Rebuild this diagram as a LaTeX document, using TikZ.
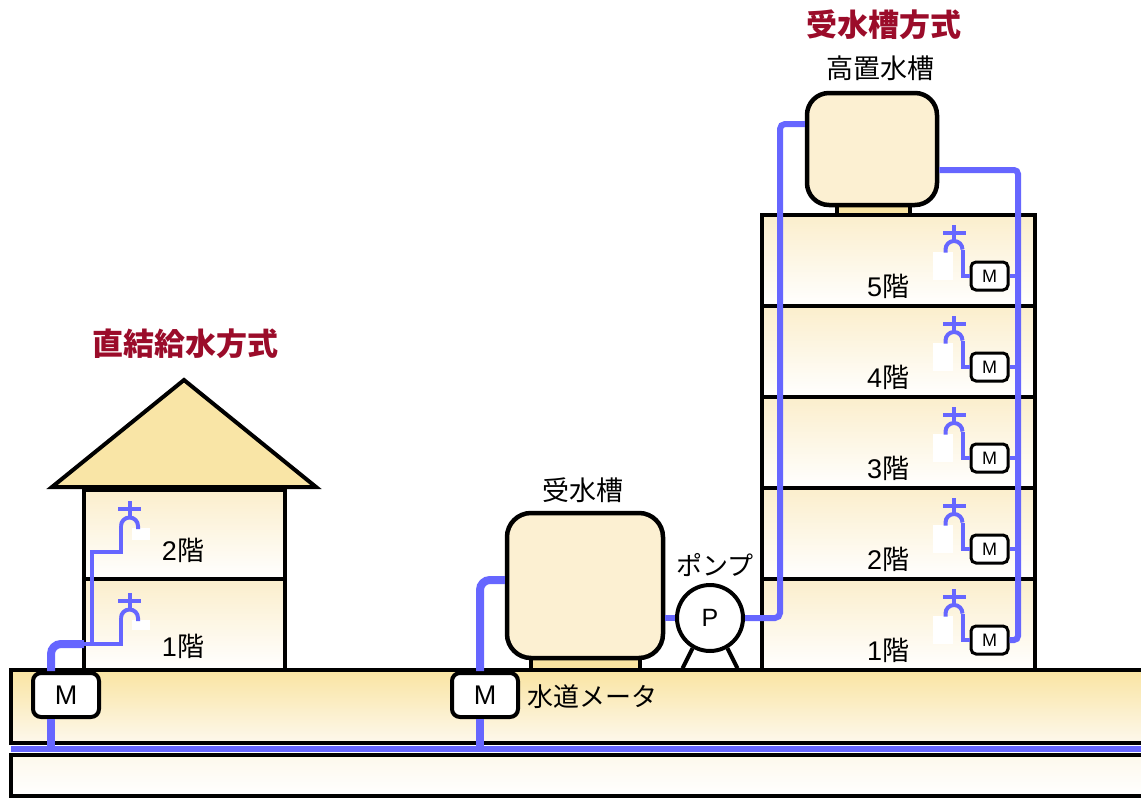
\documentclass[tikz,border=0pt]{standalone}
\usepackage{fontspec}
\setmainfont{Noto Sans CJK JP}
\newfontfamily\mfont{Liberation Sans}
\usetikzlibrary{positioning}
\definecolor{WT}{RGB}{102,102,255}
\definecolor{TK}{RGB}{252,240,210}
\definecolor{TKbase}{RGB}{249,228,162}
\definecolor{RF}{RGB}{249,229,166}
\definecolor{GD}{RGB}{249,228,162}
\definecolor{GDbg}{RGB}{253,248,236}
\definecolor{FL}{RGB}{251,238,204}
\definecolor{TT}{RGB}{155,12,42}
\tikzset{
  % outlines of ground, walls and roof
  frame/.style={draw=black, line width=4pt},
  groundband/.style={frame, top color=GD, bottom color=GDbg},
  baseband/.style={frame, top color=GDbg, bottom color=white},
  floorbox/.style={frame, top color=FL, bottom color=white},
  roof/.style={frame, fill=RF},
  % tanks and their stands
  tank/.style={
    draw=black, line width=4.5pt, fill=TK,
    rounded corners=24pt, inner sep=0pt
  },
  stand/.style={draw=black, line width=4pt, fill=TKbase},
  % meters and pump
  meter/.style={
    draw=black, fill=white, line width=4pt, rounded corners=8pt,
    minimum width=66pt, minimum height=44pt, inner sep=0pt,
    font=\mfont\fontsize{27}{27}\selectfont
  },
  smeter/.style={
    draw=black, fill=white, line width=3pt, rounded corners=5pt,
    minimum width=37pt, minimum height=28pt, inner sep=0pt,
    font=\mfont\fontsize{18}{18}\selectfont
  },
  pump/.style={
    circle, draw=black, fill=white, line width=4pt,
    minimum size=66pt, inner sep=0pt,
    font=\mfont\fontsize{25}{25}\selectfont
  },
  % water pipes
  pipe/.style={draw=WT, line width=4pt},
  riser/.style={draw=WT, line width=6pt},
  feed/.style={draw=WT, line width=8pt},
  % labels
  title/.style={font=\bfseries\fontsize{31}{31}\selectfont, text=TT, inner sep=0pt},
  caption/.style={font=\fontsize{27}{27}\selectfont, inner sep=0pt},
  flabel/.style={font=\fontsize{27}{27}\selectfont, inner sep=0pt},
  % faucet, drawn upward from the end of its pipe
  tap/.pic={
    \draw[pipe] (0,0) [rounded corners=8.5pt] -- (0,-8.5) -- (17,-8.5) -- (17,3);
    \draw[pipe] (8.5,-8.5) -- (8.5,-25);
    \draw[pipe] (-3,-17) -- (20,-17);
  },
}

\begin{document}
\begin{tikzpicture}[x=1pt, y=-1pt]
\useasboundingbox (0,0) rectangle (1141,798);

% ── Ground ───────────────────────────────────────────────────────────────────
\draw[groundband] (11,670) rectangle (1160,743);
\draw[baseband]   (11,755) rectangle (1160,796);
\coordinate (wleft)  at (11,749);
\coordinate (wright) at (1160,749);

% ── House ────────────────────────────────────────────────────────────────────
\draw[floorbox] (84,579) rectangle (285,670);
\draw[floorbox] (84,490) rectangle (285,579);
\draw[roof] (52,487) -- (184,380) -- (316,487) -- cycle;
\fill[white] (132,528) rectangle (150,540);
\fill[white] (132,620) rectangle (150,630);
\node[flabel] (h2) at (183,550) {{\mfont 2}階};
\node[flabel] (h1) at (183,646) {{\mfont 1}階};

% ── Building: five floors, a meter and a tap on each ─────────────────────────
\foreach \n/\fy in {5/215,4/306,3/397,2/488,1/579}{
  \draw[floorbox] (762,\fy) rectangle (1035,\fy+91);
  \fill[white] (933,\fy+37) rectangle (953,\fy+65);
  \node[flabel] (b\n) at (888,\fy+71) {{\mfont\n}階};
  \node[smeter] (m\n) at (989.5,\fy+61) {M};
  \coordinate (t\n) at (962.5,\fy+34.5);
}

% ── Tanks and pump ───────────────────────────────────────────────────────────
\draw[stand] (531,658) rectangle (640,670);
\node[tank, minimum width=156pt, minimum height=145pt] (rtank) at (585,585.5) {};
\draw[stand] (837,205) rectangle (910,215);
\node[tank, minimum width=130pt, minimum height=112pt, rounded corners=22pt]
  (htank) at (872,149) {};
\node[pump] (pump) at (710,618) {P};
\draw[frame] (pump.240) -- ++(-10,20);
\draw[frame] (pump.300) -- ++(10,20);

% ── Meters ───────────────────────────────────────────────────────────────────
\node[meter] (hm) at (66,695) {M};
\node[meter] (cm) at (485,695) {M};
\node[caption, font=\fontsize{26}{26}\selectfont, anchor=west] (cml) at (527,697) {水道メータ};

% ── Pipes: house ─────────────────────────────────────────────────────────────
\draw[riser] (wleft) -- (wright);
\coordinate (hfeed) at (51,749);
\coordinate (hwall) at (84,644);
\draw[feed] (hfeed) -- (hfeed |- hm.south);
\draw[feed, rounded corners=10pt] (hfeed |- hm.north) |- (hwall);
\coordinate (tap1)  at (121,618);
\coordinate (tap2)  at (121,526);
\coordinate (hup)   at (92,644);
\coordinate (hstep) at (92,552);
\draw[pipe] (hwall) -| (tap1);
\draw[pipe] (hup) -- (hstep) -| (tap2);
\pic at (tap1) {tap};
\pic at (tap2) {tap};

% ── Pipes: tank system ───────────────────────────────────────────────────────
\coordinate (cfeed) at (480,749);
\draw[feed] (cfeed) -- (cfeed |- cm.south);
\draw[feed, rounded corners=10pt] (cfeed |- cm.north) |- ([yshift=5.5pt]rtank.west);
\draw[riser] (rtank.east |- pump.west) -- (pump.west);
\coordinate (lift) at (780,124);
\draw[riser, rounded corners=5pt] (pump.east) -- (pump.east -| lift) |- ([yshift=25pt]htank.west);
\coordinate (drop) at (1018,170);
\draw[riser, rounded corners=4pt] ([yshift=-21pt]htank.east) -- (drop) |- (m1.east);
\foreach \n in {2,...,5}
  \draw[pipe] (m\n.east) -- (m\n.east -| drop);
\foreach \n in {1,...,5}{
  \draw[pipe] (m\n.west) -| (t\n);
  \pic[xscale=-1] at (t\n) {tap};
}

% ── Labels ───────────────────────────────────────────────────────────────────
\node[title] (dtitle) at (185,344) {直結給水方式};
\node[title] (ttitle) at (884,25) {受水槽方式};
\node[caption] (htl) at (880,68) {高置水槽};
\node[caption] (rtl) at (583,490) {受水槽};
\node[caption, font=\fontsize{26}{26}\selectfont] (pl) at (715,565) {ポンプ};

\end{tikzpicture}
\end{document}
